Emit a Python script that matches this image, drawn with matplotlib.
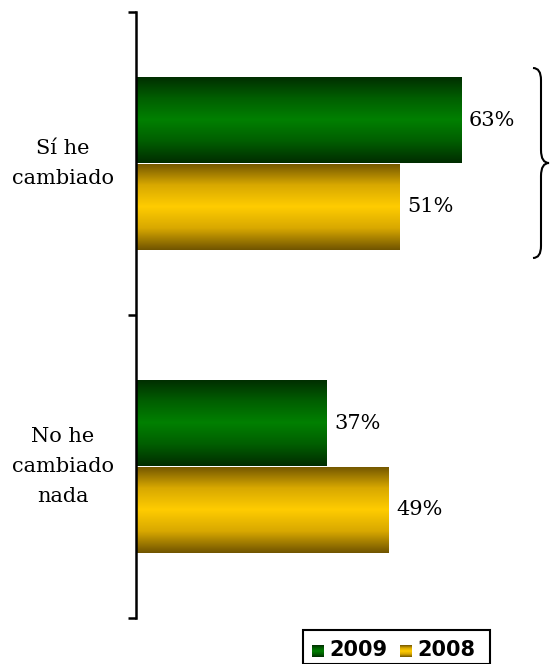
import numpy as np
import matplotlib.pyplot as plt
from matplotlib.path import Path
from matplotlib.patches import PathPatch, Rectangle
from matplotlib.colors import LinearSegmentedColormap

categories = ["Sí he\ncambiado", "No he\ncambiado\nnada"]
years = ["2009", "2008"]
values_2009 = [63, 37]
values_2008 = [51, 49]

W, H = 556, 664
fig = plt.figure(figsize=(W / 100, H / 100), dpi=100)
ax = fig.add_axes([136 / W, (H - 618) / H, 420 / W, 606 / H])

green_cmap = LinearSegmentedColormap.from_list(
    "g", [(0, "#002c00"), (0.25, "#005e00"), (0.5, "#008000"), (0.75, "#005e00"), (1, "#002c00")])
gold_cmap = LinearSegmentedColormap.from_list(
    "y", [(0, "#705400"), (0.25, "#d8a800"), (0.5, "#ffcc00"), (0.75, "#d8a800"), (1, "#705400")])

centers = [1.5, 0.5]
h = 0.287
grad = np.linspace(0, 1, 256).reshape(-1, 1)


def gradient_bar(y0, width, cmap):
    bar = ax.barh(y0, width, height=h, align="edge", facecolor="none", edgecolor="none")[0]
    im = ax.imshow(grad, cmap=cmap, aspect="auto", extent=[0, width, y0, y0 + h],
                   origin="lower", zorder=1)
    im.set_clip_path(bar)
    return bar


for i, (c, v09, v08) in enumerate(zip(centers, values_2009, values_2008)):
    gradient_bar(c, v09, green_cmap)
    gradient_bar(c - h, v08, gold_cmap)
    ax.text(v09 + 1.5, c + h / 2, f"{v09}%", va="center", ha="left",
            fontsize=15, family="DejaVu Serif")
    ax.text(v08 + 1.5, c - h / 2, f"{v08}%", va="center", ha="left",
            fontsize=15, family="DejaVu Serif")
    ax.text(-14.2, c, categories[i], va="center", ha="center",
            fontsize=15, family="DejaVu Serif", linespacing=1.7)

ax.set_xlim(0, 420 / 5.16)
ax.set_ylim(0, 2)
for s in ["top", "right", "bottom"]:
    ax.spines[s].set_visible(False)
ax.spines["left"].set_linewidth(1.8)
ax.set_xticks([])
ax.set_yticks([0, 1, 2])
ax.set_yticklabels([])
ax.tick_params(axis="y", direction="out", length=6, width=1.8)


# curly brace on the right
def px(x, y):
    return (x / W, (H - y) / H)


verts = [px(533, 68), px(541, 68), px(541, 80), px(541, 84),
         px(541, 150), px(541, 163), px(549, 163),
         px(541, 163), px(541, 176), px(541, 242),
         px(541, 246), px(541, 258), px(533, 258)]
codes = [Path.MOVETO, Path.CURVE3, Path.CURVE3, Path.LINETO,
         Path.LINETO, Path.CURVE3, Path.CURVE3,
         Path.CURVE3, Path.CURVE3, Path.LINETO,
         Path.LINETO, Path.CURVE3, Path.CURVE3]
fig.add_artist(PathPatch(Path(verts, codes), transform=fig.transFigure,
                         facecolor="none", edgecolor="black", lw=1.5))

# legend
box = Rectangle(px(303, 664), 187 / W, 34 / H, transform=fig.transFigure,
                facecolor="white", edgecolor="black", lw=1.5, zorder=0)
fig.add_artist(box)
for x0, cmap, lab in [(312, green_cmap, years[0]), (400, gold_cmap, years[1])]:
    lax = fig.add_axes([x0 / W, (H - 657) / H, 12 / W, 12 / H])
    lax.set_zorder(3)
    lax.imshow(grad, cmap=cmap, aspect="auto", origin="lower")
    lax.axis("off")
    fig.text((x0 + 17) / W, (H - 650) / H, lab, fontsize=15, fontweight="bold",
             va="center", ha="left", family="DejaVu Sans", zorder=4)

fig.savefig("out.png", dpi=100)
